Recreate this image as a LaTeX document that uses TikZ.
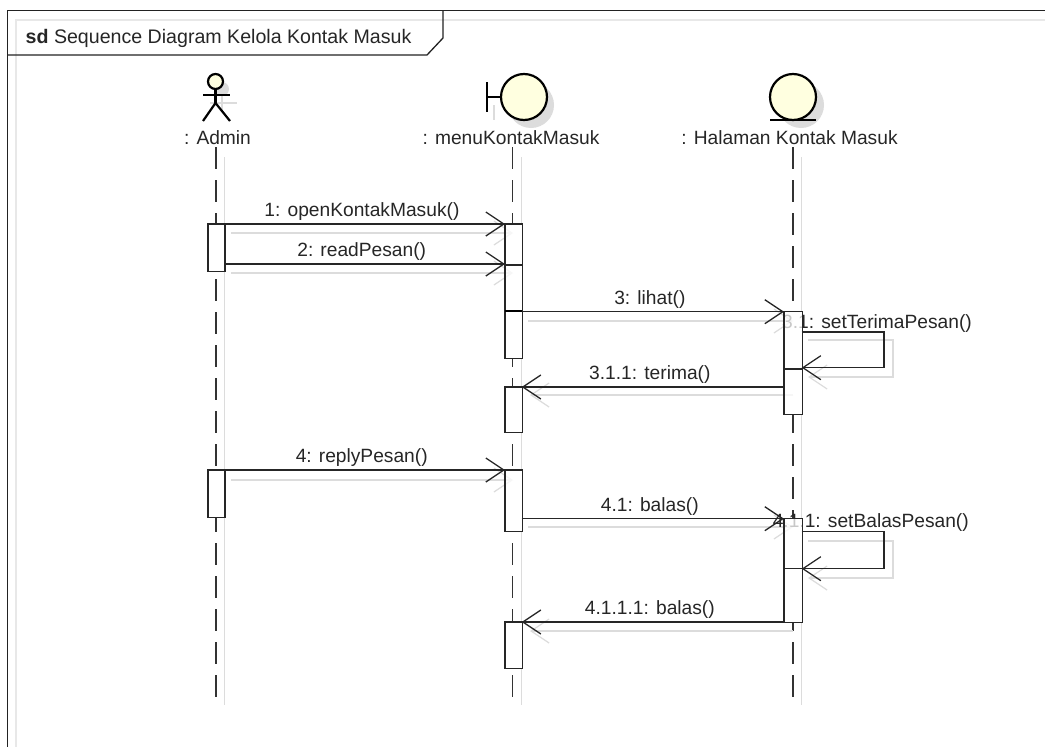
\documentclass[tikz,border=0pt]{standalone}
\usepackage{fontspec}
\setmainfont{Liberation Sans}
\usepackage{xcolor}
\usetikzlibrary{arrows.meta, positioning}
\definecolor{framecolor}{HTML}{222222}
\definecolor{shadecolor}{HTML}{DCDCDC}
\definecolor{frameshade}{HTML}{E8E8E8}
\definecolor{headcolor}{HTML}{FFFFE0}
\begin{document}
\begin{tikzpicture}[
    x=1pt, y=-1pt,
    txt/.style={inner sep=0pt, font=\fontsize{19.2}{21}\selectfont, text=black!85},
    lab/.style={txt, above=2.5pt, xshift=-3pt},
    head/.style={draw=black, line width=2.2pt, fill=headcolor},
    life/.style={draw=black!80, line width=1.3pt, dash pattern=on 22pt off 11pt},
    lifeshade/.style={draw=shadecolor, line width=1.2pt},
    activ/.style={fill=white, inner sep=0pt, anchor=north west},
    barline/.style={draw=black!85, line width=1.2pt, fill=white, fill opacity=0.75},
    msg/.style={draw=black!85, line width=1.5pt, -{Straight Barb[length=18pt, width=24pt, line width=1.3pt]}},
    msgshade/.style={draw=shadecolor, line width=1.2pt, -{Straight Barb[length=18pt, width=24pt, line width=1.2pt]}},
  ]
  \useasboundingbox (0,0) rectangle (1045,747);

  % Frame
  \draw[frameshade, line width=1.2pt] (1045,20) -- (16,20) -- (16,747);
  \draw[framecolor, line width=1.3pt] (1045,10.5) -- (7.5,10.5) -- (7.5,747);
  \draw[framecolor, line width=1.3pt] (7.5,55) -- (427,55) -- (443,38) -- (443,10.5);
  \node[txt, anchor=base west, font=\fontsize{19.6}{21}\selectfont] (title) at (25.5,43) {\textbf{sd} Sequence Diagram Kelola Kontak Masuk};

  % Shadows of the heads
  \fill[shadecolor] (531,105) circle [radius=23];
  \fill[shadecolor] (801,105) circle [radius=23];
  \fill[shadecolor] (222,89) circle [radius=7];
  \draw[shadecolor, line width=2pt] (222,96) -- (222,111) (210,103) -- (237,103);
  \draw[shadecolor, line width=2pt] (494,105) -- (494,120);

  % Heads
  \node[head, circle, minimum size=15pt, inner sep=0pt] (adminhead) at (215.5,81.5) {};
  \coordinate (adminhip) at (215.5,103);
  \draw[black, line width=2.2pt] (adminhead) -- (adminhip);
  \draw[black, line width=2.2pt] (203,95) -- (230,95);
  \draw[black, line width=2.2pt] (203,121) -- (adminhip) -- (230,121);
  \node[head, circle, minimum size=46pt, inner sep=0pt] (menuhead) at (524,97) {};
  \coordinate (menubar) at (487,97);
  \draw[black, line width=2.2pt] (487,82) -- (487,112);
  \draw[black, line width=2.2pt] (menubar) -- (menuhead);
  \node[head, circle, minimum size=46pt, inner sep=0pt] (pagehead) at (793,97) {};
  \draw[black, line width=2.6pt] (770,120) -- (816,120);

  % Names
  \node[txt, anchor=base] (admin) at (217.5,144) {: Admin};
  \node[txt, anchor=base] (menu) at (511,144) {: menuKontakMasuk};
  \node[txt, anchor=base] (page) at (789.5,144) {: Halaman Kontak Masuk};

  % Lifelines
  \draw[lifeshade] (224.5,157) -- (224.5,705);
  \draw[lifeshade] (521.7,157) -- (521.7,705);
  \draw[lifeshade] (801.7,157) -- (801.7,705);
  \coordinate (adminend) at (216,705);
  \coordinate (menuend) at (512.5,705);
  \coordinate (pageend) at (793,705);
  \draw[life] (216,147) -- (adminend);
  \draw[life] (512.5,147) -- (menuend);
  \draw[life] (793,147) -- (pageend);

  % Bars
  \node[activ, minimum width=16.5pt, minimum height=46.7pt] (admina) at (208,224) {};
  \node[activ, minimum width=16.5pt, minimum height=47pt] (adminb) at (208,470) {};
  \node[activ, minimum width=16.7pt, minimum height=133.7pt] (menua) at (505,224) {};
  \node[activ, minimum width=16.7pt, minimum height=45pt] (menub) at (505,387) {};
  \node[activ, minimum width=16.7pt, minimum height=60.7pt] (menuc) at (505,470) {};
  \node[activ, minimum width=16.7pt, minimum height=45.7pt] (menud) at (505,622) {};
  \node[activ, minimum width=17.7pt, minimum height=102.3pt] (pagea) at (784,311.7) {};
  \node[activ, minimum width=17.7pt, minimum height=103.3pt] (pageb) at (784,518.7) {};

  % Arrow shadows
  \draw[msgshade] (231,233) -- (513,233);
  \draw[msgshade] (231,273) -- (513,273);
  \draw[msgshade] (528,321) -- (793,321);
  \draw[msgshade] (793,395) -- (530,395);
  \draw[msgshade] (231,480) -- (513,480);
  \draw[msgshade] (528,527) -- (793,527);
  \draw[msgshade] (793,631) -- (530,631);
  \draw[msgshade] (808,340) -- (893,340) -- (893,377) -- (808,377);
  \draw[msgshade] (808,541) -- (893,541) -- (893,578) -- (808,578);

  % Self call labels sit under the bar outlines
  \node[txt, anchor=base east] (selfa) at (972,328) {3.1: setTerimaPesan()};
  \node[txt, anchor=base east] (selfb) at (969,527) {4.1.1: setBalasPesan()};
  \foreach \bar in {admina, adminb, menua, menub, menuc, menud, pagea, pageb}
    \draw[barline] (\bar.north west) rectangle (\bar.south east);

  % Bar joins
  \draw[black!85, line width=1.2pt] (505,265) -- (521.7,265);
  \draw[black, line width=2pt] (505,310.7) -- (521.7,310.7);
  \draw[black!85, line width=1.2pt] (784,369) -- (801.7,369);
  \draw[black!85, line width=1.2pt] (784,568.7) -- (801.7,568.7);

  % Arrows
  \coordinate (froma) at (224.5,264);
  \coordinate (toa) at (505,264);
  \coordinate (fromb) at (521.7,311.7);
  \coordinate (tob) at (784,311.7);
  \coordinate (fromc) at (784,387);
  \coordinate (toc) at (521.7,387);
  \coordinate (fromd) at (224.5,470);
  \coordinate (tod) at (505,470);
  \coordinate (frome) at (521.7,518.7);
  \coordinate (toe) at (784,518.7);
  \coordinate (fromf) at (784,622);
  \coordinate (tof) at (521.7,622);
  \draw[msg] (admina.north east) -- node[lab] (msga) {1: openKontakMasuk()} (menua.north west);
  \draw[msg] (froma) -- node[lab] (msgb) {2: readPesan()} (toa);
  \draw[msg] (fromb) -- node[lab] (msgc) {3: lihat()} (tob);
  \draw[msg] (fromc) -- node[lab] (msgd) {3.1.1: terima()} (toc);
  \draw[msg] (fromd) -- node[lab] (msge) {4: replyPesan()} (tod);
  \draw[msg] (frome) -- node[lab] (msgf) {4.1: balas()} (toe);
  \draw[msg] (fromf) -- node[lab] (msgg) {4.1.1.1: balas()} (tof);

  % Self calls
  \coordinate (loopa) at (801.7,332);
  \coordinate (backa) at (801.7,367.7);
  \coordinate (loopb) at (801.7,531.7);
  \coordinate (backb) at (801.7,568.7);
  \draw[msg] (loopa) -- (884,332) -- (884,367.7) -- (backa);
  \draw[msg] (loopb) -- (884,531.7) -- (884,568.7) -- (backb);
\end{tikzpicture}
\end{document}
